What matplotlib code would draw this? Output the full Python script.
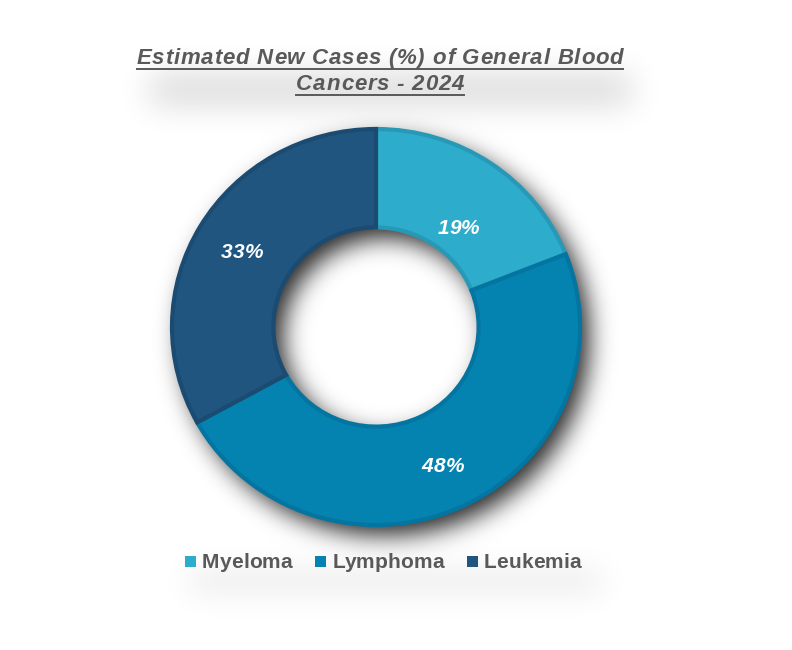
import numpy as np
import matplotlib
matplotlib.use("Agg")
import matplotlib.pyplot as plt
from matplotlib.lines import Line2D
from matplotlib.patches import Rectangle

# ---- data ----
categories = ["Myeloma", "Lymphoma", "Leukemia"]
values = [19, 48, 33]
labels_pct = ["19%", "48%", "33%"]
title_lines = ["Estimated New Cases (%) of General Blood", "Cancers - 2024"]

colors = ["#2EACCB", "#0583B0", "#1F557F"]
edge_colors = ["#2799B6", "#0474A0", "#1C4B72"]

W, H = 792, 650
DPI = 100
cx, cy = 376, 327          # donut centre in pixels (from top)
rx, ry = 204, 198          # outer radii in pixels
ring_w = 0.497

plt.rcParams['font.family'] = ['Liberation Sans', 'DejaVu Sans']
fig = plt.figure(figsize=(W / DPI, H / DPI), dpi=DPI)
fig.patch.set_facecolor("white")
renderer = fig.canvas.get_renderer()


def gblur(img, sigma):
    h, w = img.shape
    pad = int(4 * sigma)
    big = np.pad(img, pad)
    fy = np.fft.fftfreq(big.shape[0])[:, None]
    fx = np.fft.fftfreq(big.shape[1])[None, :]
    kern = np.exp(-2 * (np.pi ** 2) * sigma ** 2 * (fx ** 2 + fy ** 2))
    out = np.real(np.fft.ifft2(np.fft.fft2(big) * kern))
    return out[pad:pad + h, pad:pad + w]


# ---- shadow layer ----
yy, xx = np.mgrid[0:H, 0:W].astype(float)
sx, sy = 9, 10
dx = (xx - cx - sx) / rx
dy = (yy - cy - sy) / ry
rr = np.sqrt(dx ** 2 + dy ** 2)
ring = ((rr <= 1.0) & (rr >= 1 - ring_w)).astype(float)
shadow = gblur(ring, 12) * 0.85


def rect_mask(x0, x1, y0, y1):
    return ((xx >= x0) & (xx <= x1) & (yy >= y0) & (yy <= y1)).astype(float)


halo = rect_mask(150, 630, 74, 104) * 0.15 + rect_mask(190, 600, 574, 588) * 0.13
halo = gblur(halo, 16)
shadow = np.clip(shadow + halo, 0, 1)

bg = fig.add_axes([0, 0, 1, 1])
rgba = np.zeros((H, W, 4))
rgba[..., 3] = shadow
bg.imshow(rgba, extent=(0, W, H, 0), interpolation="bilinear")
bg.set_xlim(0, W)
bg.set_ylim(H, 0)
bg.axis("off")


def text_width(s, **kw):
    t = fig.text(0, 0, s, **kw)
    w = t.get_window_extent(renderer).width
    t.remove()
    return w


def tracked(x, y, s, track, ha="center", **kw):
    """Draw s with extra letter spacing; x, y in pixels from top-left (baseline)."""
    total = text_width(s, **kw) + track * (len(s) - 1)
    x0 = x - total / 2 if ha == "center" else x
    for i, ch in enumerate(s):
        if ch == " ":
            continue
        off = text_width(s[:i], **kw) if i else 0.0
        fig.text((x0 + off + track * i) / W, 1 - y / H, ch, ha="left",
                 va="baseline", **kw)
    return x0, x0 + total


# ---- donut ----
ax = fig.add_axes([0, 0, 1, 1])
ax.patch.set_alpha(0)
wedges, _t = ax.pie(values, colors=colors, startangle=90, counterclock=False,
                    radius=1.0, wedgeprops=dict(width=ring_w, linewidth=3))
for w_, ec in zip(wedges, edge_colors):
    w_.set_edgecolor(ec)
ax.set_aspect("auto")
ax.set_xlim(-cx / rx, (W - cx) / rx)
ax.set_ylim(-(H - cy) / ry, cy / ry)
ax.axis("off")

# percentage labels
label_r = [0.72, 0.77, 0.76]
label_shift = [-0.09, 0.0, 0.0]
lab_kw = dict(color="white", fontsize=15, fontweight="bold", fontstyle="italic",
              zorder=5)
for w_, lab, r_, sh in zip(wedges, labels_pct, label_r, label_shift):
    ang = np.deg2rad((w_.theta1 + w_.theta2) / 2)
    px = cx + r_ * np.cos(ang) * rx
    py = cy - (r_ * np.sin(ang) + sh) * ry + 7.5
    tracked(px, py, lab, 0.4, **lab_kw)

# ---- title with underline ----
title_color = "#595959"
tys = [64, 90]
t_kw = dict(fontsize=16, fontweight="bold", fontstyle="italic", color=title_color)
for line, ty in zip(title_lines, tys):
    x0, x1 = tracked(380, ty, line, 0.8, **t_kw)
    yl = 1 - (ty + 4.5) / H
    fig.add_artist(Line2D([x0 / W, x1 / W], [yl, yl], color=title_color,
                          linewidth=1.4, transform=fig.transFigure))

# ---- legend (manual) ----
leg_kw = dict(fontsize=15, fontweight="bold", color="#595959")
leg_track = 0.1
msz, mgap, cgap = 11, 6, 23
widths = [text_width(c, **leg_kw) + leg_track * (len(c) - 1) for c in categories]
total = sum(msz + mgap + w for w in widths) + cgap * (len(categories) - 1)
x = 383 - total / 2
ly = 561
for c, col, w in zip(categories, colors, widths):
    fig.add_artist(Rectangle((x / W, 1 - (ly + msz / 2) / H), msz / W, msz / H,
                             facecolor=col, edgecolor="none",
                             transform=fig.transFigure))
    tracked(x + msz + mgap, ly + 6.5, c, leg_track, ha="left", **leg_kw)
    x += msz + mgap + w + cgap

fig.savefig("out.png", dpi=DPI, facecolor="white")
